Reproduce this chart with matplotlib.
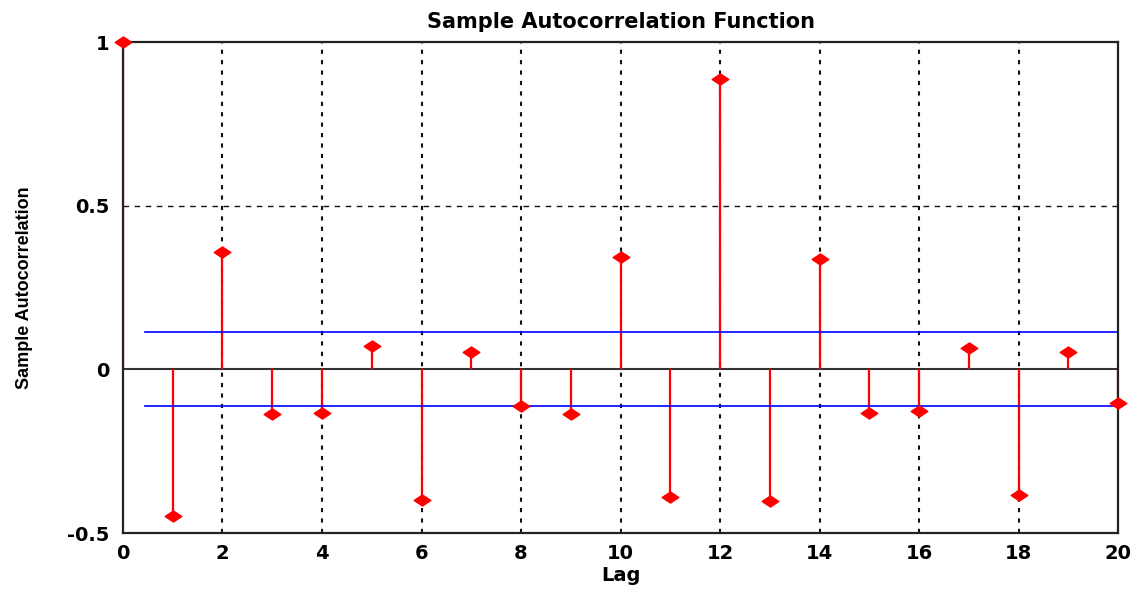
import matplotlib
matplotlib.use('Agg')
import matplotlib.pyplot as plt
from matplotlib.path import Path
import numpy as np

plt.rcParams['font.family'] = ['DejaVu Sans']
plt.rcParams['font.weight'] = 'bold'

# sample autocorrelation, lags 0..20
lags = np.arange(0, 21)
acf = [1.0, -0.447, 0.358, -0.135, -0.134, 0.071, -0.398, 0.054, -0.112,
       -0.135, 0.344, -0.390, 0.886, -0.403, 0.338, -0.132, -0.127, 0.064,
       -0.384, 0.054, -0.104]
bound = 0.113
bound_start = 0.45

# flattened diamond, the picture is stretched sideways
wide_diamond = Path([(-1.5, 0), (0, 1), (1.5, 0), (0, -1), (-1.5, 0)],
                    [Path.MOVETO, Path.LINETO, Path.LINETO, Path.LINETO, Path.CLOSEPOLY])

fig = plt.figure(figsize=(11.42, 5.9), dpi=100)
ax = fig.add_axes([0.1077, 0.0966, 0.8713, 0.8322])

# grid: dotted verticals, dashed horizontal (like matlab)
for x in range(2, 20, 2):
    ax.axvline(x, color='#111111', linestyle=(0, (2, 3)), linewidth=1.5, zorder=0)
ax.axhline(0.5, color='#111111', linestyle=(0, (4, 4)), linewidth=1.0, zorder=0)

ax.axhline(0, color='#333333', linewidth=1.5, zorder=1)

ax.vlines(lags, 0, acf, color='red', linewidth=1.6, zorder=2)
ax.plot(lags, acf, linestyle='none', marker=wide_diamond, markersize=12, color='red',
        markeredgecolor='red', clip_on=False, zorder=3)

ax.plot([bound_start, 20], [bound, bound], color='blue', linewidth=1.2, zorder=2)
ax.plot([bound_start, 20], [-bound, -bound], color='blue', linewidth=1.2, zorder=2)

ax.set_xlim(0, 20)
ax.set_ylim(-0.5, 1)
ax.set_xticks(range(0, 21, 2))
ax.set_yticks([-0.5, 0, 0.5, 1])
ax.set_yticklabels(['-0.5', '0', '0.5', '1'])
ax.tick_params(axis='x', direction='in', length=0, labelsize=14, pad=8)
ax.tick_params(axis='y', direction='in', length=0, labelsize=14, pad=10)
for lbl in ax.get_xticklabels() + ax.get_yticklabels():
    lbl.set_fontweight('bold')
for s in ax.spines.values():
    s.set_linewidth(1.6)
    s.set_color('#222222')

ax.set_title('Sample Autocorrelation Function', fontsize=15, fontweight='bold', pad=10)
ax.set_xlabel('Lag', fontsize=14, fontweight='bold', labelpad=2)
ax.set_ylabel('Sample Autocorrelation', fontsize=13, fontweight='bold', labelpad=24,
              family=['Liberation Sans', 'DejaVu Sans'])

fig.savefig('out.png', dpi=100)
